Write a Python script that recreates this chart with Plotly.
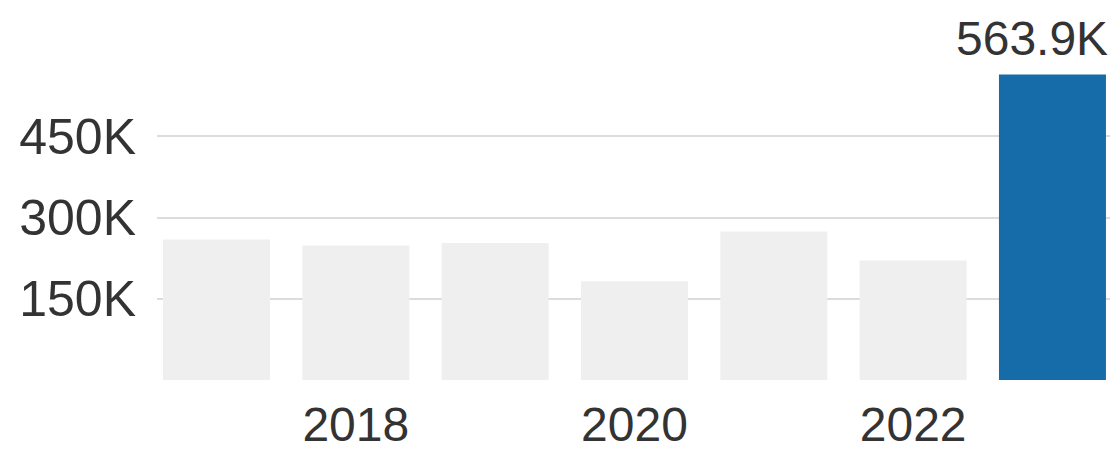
import plotly.graph_objects as go

years = [2017, 2018, 2019, 2020, 2021, 2022, 2023]
values = [259600, 248500, 252700, 182500, 274300, 220800, 563900]
highlight_label = "563.9K"
x_tick_vals = [2018, 2020, 2022]
x_tick_text = ["2018", "2020", "2022"]
y_tick_vals = [150000, 300000, 450000]
y_tick_text = ["150K", "300K", "450K"]

GRAY = "#efefef"
BLUE = "#166ca8"
TEXT = "#333333"
FONT = "Liberation Sans, Arial, sans-serif"

colors = [GRAY] * (len(years) - 1) + [BLUE]

fig = go.Figure()
fig.add_trace(go.Bar(
    x=years, y=values, marker=dict(color=colors, line=dict(width=0)),
    hoverinfo="skip", showlegend=False,
))

fig.add_annotation(
    x=1, xref="paper", xanchor="right",
    y=values[-1], yref="y", yanchor="bottom", yshift=8,
    text=highlight_label, showarrow=False,
    font=dict(family=FONT, size=48, color=TEXT),
)

fig.update_layout(
    width=1117, height=450,
    margin=dict(l=157, r=7, t=55, b=70, autoexpand=False),
    paper_bgcolor="white", plot_bgcolor="white",
    bargap=0.232,
    font=dict(family=FONT, size=48, color=TEXT),
    xaxis=dict(
        type="linear", range=[2016.573, 2023.413],
        tickvals=x_tick_vals, ticktext=x_tick_text,
        showgrid=False, zeroline=False, showline=False,
        ticks="", ticklabelstandoff=12, automargin=False,
        tickfont=dict(family=FONT, size=48, color=TEXT),
    ),
    yaxis=dict(
        range=[0, 600000],
        tickvals=y_tick_vals, ticktext=y_tick_text,
        showgrid=True, gridcolor="#dcdcdc", gridwidth=2,
        zeroline=False, showline=False, ticks="",
        ticklabelstandoff=20, automargin=False,
        tickfont=dict(family=FONT, size=50, color=TEXT),
    ),
)

fig.write_html(
    "out.html",
    config={"displayModeBar": False, "staticPlot": True},
    post_script="document.body.style.margin='0';document.body.style.overflow='hidden';",
)
